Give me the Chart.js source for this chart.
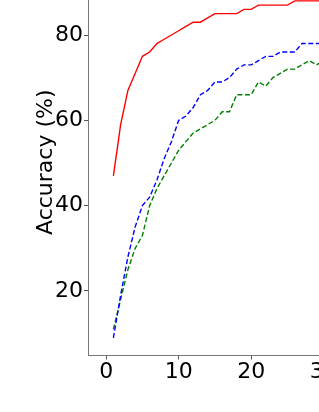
<!DOCTYPE html>
<html>
<head>
<meta charset="utf-8">
<script src="https://cdn.jsdelivr.net/npm/chart.js@4/dist/chart.umd.min.js"></script>
<style>
html,body{margin:0;padding:0;background:#fff;overflow:hidden;}
#wrap{position:relative;width:319px;height:412px;overflow:hidden;background:#fff;}
#c{position:absolute;left:0;top:-31px;}
</style>
</head>
<body>
<div id="wrap"><canvas id="c" width="360" height="443" style="width:360px;height:443px;"></canvas></div>
<script>
const epochs = [1,2,3,4,5,6,7,8,9,10,11,12,13,14,15,16,17,18,19,20,21,22,23,24,25,26,27,28,29,30];
const redAcc   = [47,59,67,71,75,76,78,79,80,81,82,83,83,84,85,85,85,85,86,86,87,87,87,87,87,88,88,88,88,88];
const blueAcc  = [9,19,28,35,40,42,46,51,55,60,61,63,66,67,69,69,70,72,73,73,74,75,75,76,76,76,78,78,78,78];
const greenAcc = [11,18,25,30,33,40,44,47,50,53,55,57,58,59,60,62,62,66,66,66,69,68,70,71,72,72,73,74,73,74];
const xTicks = [0,10,20,30];
const yTicks = [20,40,60,80];
const yLabel = 'Accuracy (%)';

const toPts = arr => epochs.map((e,i) => ({x:e, y:arr[i]}));
const series = (data, color, dash) => ({
  data: toPts(data), borderColor: color, backgroundColor: color,
  borderWidth: 1.4, borderDash: dash, pointRadius: 0, fill: false, tension: 0
});
const tickFont = {family:'DejaVu Sans', size:22};

new Chart(document.getElementById('c'), {
  type: 'line',
  data: { datasets: [
    series(redAcc, '#ff0000', []),
    series(blueAcc, '#0000ff', [5,2.5]),
    series(greenAcc, '#008000', [5,2.5])
  ]},
  options: {
    responsive: false, animation: false, devicePixelRatio: 1,
    layout: { padding: 0 },
    plugins: { legend: {display:false}, tooltip: {enabled:false} },
    scales: {
      x: {
        type: 'linear', min: -2.5, max: 35,
        afterBuildTicks: s => { s.ticks = xTicks.map(v => ({value:v})); },
        afterFit: s => { s.height = 56.5; s.paddingLeft = 0; s.paddingRight = 0; },
        grid: { display:true, drawOnChartArea:false, drawTicks:true, tickLength:4, tickColor:'#555', tickWidth:1 },
        border: { display:true, color:'#777', width:1 },
        ticks: { font: tickFont, color:'#000', padding:0, maxRotation:0, autoSkip:false }
      },
      y: {
        type: 'linear', min: 4.88, max: 95.47,
        afterBuildTicks: s => { s.ticks = yTicks.map(v => ({value:v})); },
        afterFit: s => { s.width = 88; s.paddingTop = 0; s.paddingBottom = 0; },
        grid: { display:true, drawOnChartArea:false, drawTicks:true, tickLength:4, tickColor:'#555', tickWidth:1 },
        border: { display:true, color:'#777', width:1 },
        ticks: { font: tickFont, color:'#000', padding:1, autoSkip:false },
        title: { display:true, text: yLabel, font:{family:'DejaVu Sans', size:22}, color:'#000', padding:{top:33,bottom:0} }
      }
    }
  }
});
</script>
</body>
</html>
